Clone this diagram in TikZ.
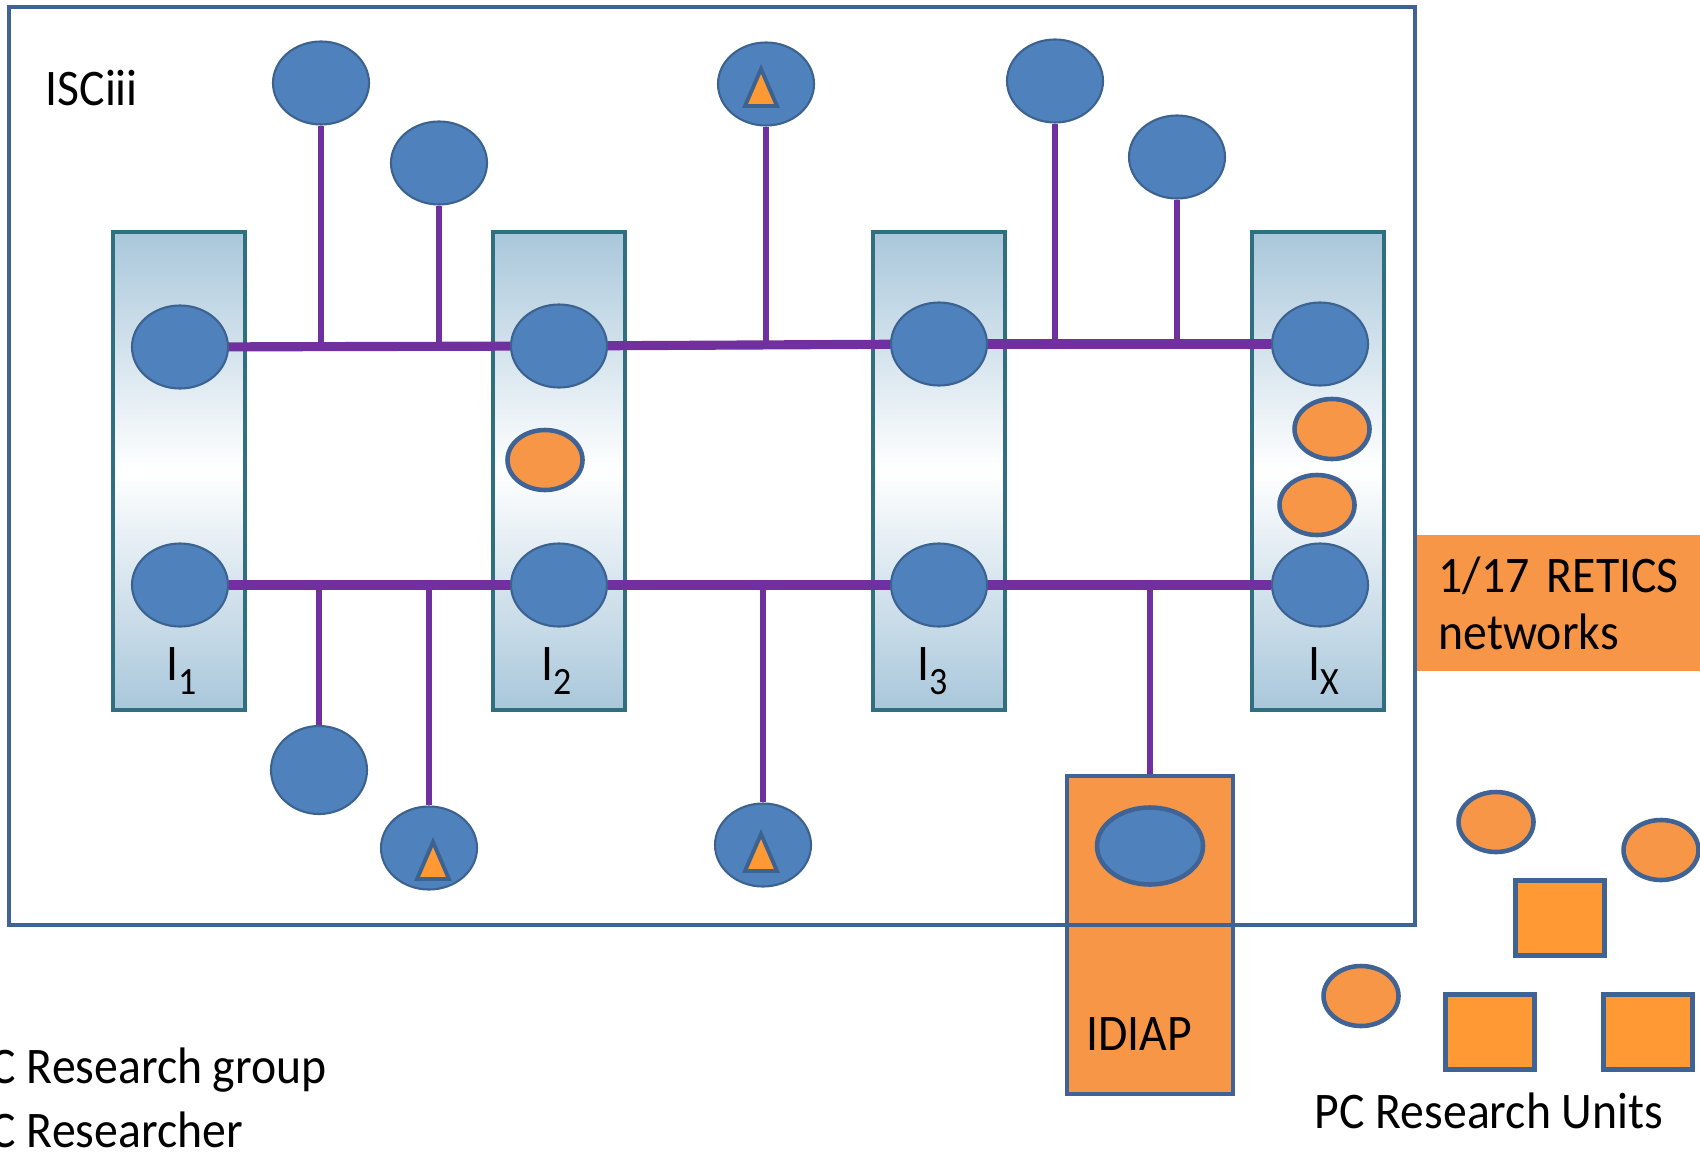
\documentclass[tikz,border=0pt]{standalone}
\usepackage{fontspec}
\setmainfont{Carlito}[FakeStretch=0.93]
\usepackage{tikz}
\usetikzlibrary{calc,positioning,shapes.geometric}

\definecolor{grpblue}{HTML}{4F81BD}
\definecolor{grpedge}{HTML}{3C6290}
\definecolor{frameblue}{HTML}{3F6394}
\definecolor{unitorange}{HTML}{F79646}
\definecolor{sqorange}{HTML}{FF9933}
\definecolor{linkpurple}{HTML}{7030A0}
\definecolor{boxteal}{HTML}{2F6F80}
\definecolor{instblue}{HTML}{A9C7DB}

\newcommand{\instlab}[1]{I\raisebox{-4pt}{\fontsize{11}{11}\selectfont #1}}

\begin{document}
\begin{tikzpicture}[x=0.1mm,y=-0.1mm]
\tikzset{instbox/.style={rectangle,draw=boxteal,line width=1pt,top color=instblue,bottom color=instblue,middle color=white,minimum width=13.2mm,minimum height=47.8mm},
grpnode/.style={ellipse,fill=grpblue,draw=grpedge,line width=0.6pt,minimum width=9.6mm,minimum height=8.3mm,inner sep=0},
unitnode/.style={ellipse,fill=unitorange,draw=frameblue,line width=1.3pt,minimum width=7.5mm,minimum height=6mm,inner sep=0},
sqnode/.style={rectangle,fill=sqorange,draw=frameblue,line width=1.3pt,minimum width=8.9mm,minimum height=7.5mm,inner sep=0},
idiapbox/.style={rectangle,fill=unitorange,draw=frameblue,line width=1.4pt,minimum width=16.6mm,minimum height=31.8mm},
framebox/.style={rectangle,draw=frameblue,line width=1.4pt},
reticsbox/.style={rectangle,fill=unitorange,inner xsep=2.2mm,text width=25mm,minimum height=13.6mm,align=left,font=\fontsize{14.6}{16.2}\selectfont},
txt/.style={inner sep=0,font=\fontsize{14.6}{16.2}\selectfont},
link/.style={draw=linkpurple,line width=2.6pt},
stem/.style={draw=linkpurple,line width=1.7pt},
tri/.style={fill=sqorange,draw=grpedge,line width=1.1pt,line join=miter}}

\useasboundingbox (0,0) rectangle (1700,1151);

%% Institutes
\foreach \k/\x in {1/179,2/559,3/939,4/1318} \node (i\k) [instbox] at (\x,471) {};
\foreach \k/\x/\s in {1/182/1,2/557/2,3/933/3,4/1324/X} \node (l\k) [txt,anchor=base] at (\x,680) {\instlab{\s}};

\foreach \k/\x/\y in {1/180/347,2/559/346,3/939/344,4/1320/344} {
  \node (a\k) [grpnode] at (\x,\y) {};
  \node (b\k) [grpnode] at (\x,585) {};
}
\node (o1) [unitnode] at (545,460) {};
\node (o2) [unitnode] at (1332,429) {};
\node (o3) [unitnode] at (1317,505) {};

%% Groups around the backbone
\node (pA) [grpnode] at (321,83) {};
\node (pB) [grpnode] at (439,163) {};
\node (pC) [grpnode] at (766,84) {};
\node (pD) [grpnode] at (1055,81) {};
\node (pE) [grpnode] at (1177,157) {};
\node (qA) [grpnode,minimum height=8.8mm] at (319,770) {};
\node (qB) [grpnode] at (429,848) {};
\node (qC) [grpnode] at (763,845) {};

\foreach \n/\dx/\dy in {pC/-5/4, qB/4/13, qC/-2/8}
  \draw[tri] ($(\n)+(\dx-16,\dy+18)$) -- ($(\n)+(\dx+16,\dy+18)$) -- ($(\n)+(\dx,\dy-19)$) -- cycle;

%% IDIAP
\node (idiap) [idiapbox] at (1150,935) {};
\node (gi) [grpnode,draw=frameblue,line width=1.3pt,minimum width=10.6mm,minimum height=7.7mm] at (1150,846) {};
\node (idl) [txt,anchor=base] at (1139,1050) {IDIAP};

%% Frame
\node (isc) [framebox,minimum width=140.6mm,minimum height=91.8mm] at (712,466) {};
\node (isclab) [txt,anchor=base west] at (45,106) {ISCiii};

\node (retics) [reticsbox,anchor=west] at (1416,603) {1/17 RETICS\\networks};

%% Edges
\foreach \u/\v in {a1/a2,a2/a3,a3/a4,b1/b2,b2/b3,b3/b4} \draw[link] (\u) -- (\v);
\foreach \u/\v in {pA/a1,pB/a1,pC/a2,pD/a3,pE/a3,qA/b1,qB/b1,qC/b1} \draw[stem] (\u) -- (\u |- \v);
\draw[stem] (idiap.north) -- (idiap.north |- b3);

%% PC units
\node (u1) [unitnode] at (1496,822) {};
\node (u2) [unitnode] at (1661,850) {};
\node (u3) [unitnode] at (1361,996) {};
\node (s1) [sqnode] at (1560,918) {};
\node (s2) [sqnode] at (1490,1032) {};
\node (s3) [sqnode] at (1648,1032) {};
\node (pcu) [txt,anchor=base] at (1489,1128) {PC Research Units};

\node (leg1) [txt,anchor=base west] at (-10,1083) {C Research group};
\node (leg2) [txt,anchor=base west] at (-10,1147) {C Researcher};

\end{tikzpicture}
\end{document}
